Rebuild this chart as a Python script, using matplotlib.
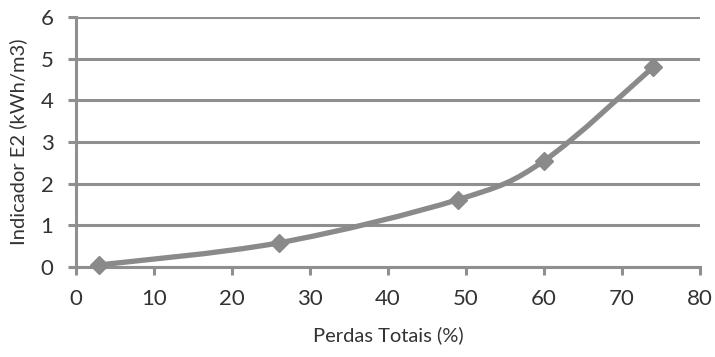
import matplotlib
matplotlib.use("Agg")
import matplotlib.pyplot as plt
import numpy as np
from matplotlib.path import Path
from matplotlib.patches import PathPatch

perdas = [3, 26, 49, 60, 74]
indicador = [0.05, 0.58, 1.62, 2.55, 4.8]
x_ticks = [0, 10, 20, 30, 40, 50, 60, 70, 80]
y_ticks = [0, 1, 2, 3, 4, 5, 6]

plt.rcParams['font.family'] = ['Lato', 'DejaVu Sans']
fig = plt.figure(figsize=(7.15, 3.57), dpi=100)
ax = fig.add_axes([0.106, 0.252, 0.873, 0.700])

col = '#8a8a8a'
grid_col = '#8f8f8f'

# smooth Bezier path (Excel-style smoothing) through the data points
x = np.array(perdas, float)
y = np.array(indicador, float)
verts = [(x[0], y[0])]
codes = [Path.MOVETO]
n = len(x)
t = 1/6
for i in range(n - 1):
    p0 = (x[i-1], y[i-1]) if i > 0 else (x[i], y[i])
    p1 = (x[i], y[i])
    p2 = (x[i+1], y[i+1])
    p3 = (x[i+2], y[i+2]) if i + 2 < n else (x[i+1], y[i+1])
    c1 = (p1[0] + (p2[0]-p0[0])*t, p1[1] + (p2[1]-p0[1])*t)
    c2 = (p2[0] - (p3[0]-p1[0])*t, p2[1] - (p3[1]-p1[1])*t)
    verts += [c1, c2, p2]
    codes += [Path.CURVE4]*3
patch = PathPatch(Path(verts, codes), facecolor='none', edgecolor=col, lw=3.8,
                  capstyle='round', joinstyle='round', zorder=3)
ax.add_patch(patch)
ax.plot(perdas, indicador, linestyle='none', marker='D', markersize=9,
        color=col, zorder=4, clip_on=False)

ax.set_xlim(0, 80)
ax.set_ylim(0, 6)
ax.set_xticks(x_ticks)
ax.set_yticks(y_ticks)
ax.grid(axis='y', color=grid_col, lw=2.2)
ax.set_axisbelow(True)
for s in ['top', 'right']:
    ax.spines[s].set_visible(False)
for s in ['left', 'bottom']:
    ax.spines[s].set_color(grid_col)
    ax.spines[s].set_linewidth(2.2)
ax.tick_params(axis='both', colors=grid_col, width=2.2, length=6, labelsize=16,
               labelcolor='#333333', direction='out')
ax.tick_params(axis='x', pad=10)
ax.tick_params(axis='y', pad=10)
ax.set_xlabel('Perdas Totais (%)', fontsize=14.5, color='#333333', labelpad=12)
ax.set_ylabel('Indicador E2 (kWh/m3)', fontsize=14.5, color='#333333', labelpad=10)
fig.savefig('out.png', dpi=100)
